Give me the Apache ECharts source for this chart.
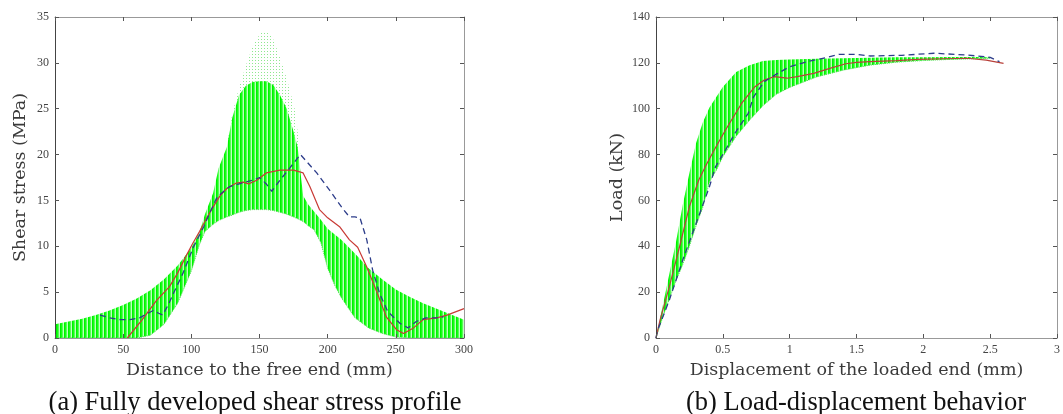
<!DOCTYPE html>
<html>
<head>
<meta charset="utf-8">
<script src="https://cdn.jsdelivr.net/npm/echarts@6/dist/echarts.min.js"></script>
<style>
  html, body { margin: 0; padding: 0; background: #fff; }
  #chart { width: 1063px; height: 414px; }
</style>
</head>
<body>
<div id="chart"></div>
<script>
// ---- (a) shear stress profile ----
let bandX = [0, 10, 20, 30, 40, 50, 60, 70, 80, 90, 100, 106, 110, 116, 120, 126, 130, 135, 140, 145, 150, 155, 160, 165, 170, 175, 178, 182, 186, 190, 195, 200, 205, 210, 220, 230, 240, 250, 260, 270, 280, 290, 300];
let bandUpper = [1.5, 1.8, 2.1, 2.5, 3.0, 3.6, 4.3, 5.2, 6.4, 7.9, 9.8, 11.5, 13.5, 15.8, 18.5, 20.8, 24, 26.5, 27.5, 27.9, 28, 28, 27.6, 26.5, 25, 22.5, 20.8, 15.5, 14.5, 13.8, 12.9, 11.9, 11.3, 10.7, 9.2, 7.6, 6.4, 5.3, 4.5, 3.8, 3.2, 2.6, 2.0];
let bandLower = [0, 0, 0, 0, 0, 0, 0, 0.3, 1.5, 3.8, 7.3, 10.2, 11.6, 12.4, 12.8, 13.2, 13.4, 13.7, 13.9, 14.0, 14.0, 14.0, 13.9, 13.7, 13.5, 13.2, 13.0, 12.7, 12.2, 11.8, 10.4, 7.6, 5.8, 4.4, 2.2, 1.1, 0.5, 0.1, 0, 0, 0, 0, 0];
// sparse dotted curves above the dense band near the peak
let peakX = [126, 130, 135, 140, 145, 150, 153, 157, 160, 165, 170, 176, 180];
let peakTop = [21, 24.4, 27.3, 29.7, 31.8, 33.1, 33.5, 33.2, 32.6, 30.6, 28.3, 24.9, 20];

let shearRed = [[53, 0], [64, 2.0], [74.5, 4.1], [84, 5.6], [90, 7.1], [96, 8.9], [101, 10.3], [106, 11.6], [111, 13.0], [116, 14.3], [121, 15.5], [126, 16.3], [133, 16.9], [138, 17.0], [142, 16.8], [148, 17.2], [155, 18.0], [165, 18.3], [175, 18.3], [182, 18.0], [187, 16.5], [194, 14.0], [200, 13.1], [209, 12.1], [216, 10.7], [222, 9.9], [228.5, 7.8], [235.6, 5.2], [243, 2.3], [250.5, 0.9], [255.6, 0.5], [263, 1.1], [270, 2.0], [280, 2.2], [287.5, 2.5], [300, 3.2]];
let shearDash = [[33, 2.5], [40, 2.2], [48, 2.0], [55, 2.0], [62, 2.2], [67, 2.6], [72, 3.0], [76, 2.7], [79, 2.5], [83, 3.6], [87, 4.9], [94, 7.1], [101.5, 9.9], [109, 12.1], [114, 13.8], [119, 15.4], [128, 16.5], [137, 16.9], [145, 17.2], [150, 17.5], [155, 16.8], [159, 16.0], [165, 17.2], [172, 18.5], [180, 20.0], [186, 19.0], [192, 18.0], [202, 16.0], [211, 14.1], [216, 13.2], [220, 13.2], [223.7, 13.1], [228.7, 10.7], [233, 7.4], [238, 4.9], [244, 2.9], [253, 1.6], [259, 1.1], [265, 1.8], [272, 2.2], [280, 2.2], [285, 2.3]];

// ---- (b) load-displacement ----
let loadX = [0, 0.05, 0.1, 0.15, 0.2, 0.25, 0.3, 0.35, 0.4, 0.45, 0.5, 0.6, 0.7, 0.8, 0.9, 1.0, 1.2, 1.4, 1.6, 1.8, 2.0, 2.2, 2.4, 2.5];
let loadUpper = [0, 14, 28, 42, 58, 72, 85, 94, 100.5, 105, 109.5, 116, 119, 120.8, 121.3, 121.5, 121.8, 122, 122.2, 122.4, 122.5, 122.6, 122.6, 122.4];
let loadLower = [0, 9, 17, 25, 32, 40, 49, 57, 68, 73, 79, 88, 95, 101.3, 106.3, 109.3, 113.8, 116.8, 119, 120.3, 121, 121.5, 121.8, 122];

let loadRed = [[0, 0], [0.03, 7.8], [0.1, 22.4], [0.176, 39.8], [0.25, 57.3], [0.32, 68.9], [0.38, 76], [0.45, 83.5], [0.52, 90.7], [0.64, 102.3], [0.74, 109.6], [0.81, 112.5], [0.885, 114], [0.98, 113.3], [1.056, 114], [1.18, 115.4], [1.3, 117.6], [1.42, 119.6], [1.5, 120.2], [1.6, 120.5], [1.8, 121], [1.96, 121.5], [2.15, 121.8], [2.33, 122], [2.47, 121.2], [2.6, 119.8]];
let loadDash = [[0, 0], [0.01, 3], [0.1, 16.6], [0.2, 34], [0.3, 50], [0.4, 66], [0.445, 74.7], [0.52, 82], [0.59, 89.3], [0.69, 98], [0.73, 105.2], [0.81, 111.8], [0.91, 115.4], [1.0, 118.3], [1.13, 120.5], [1.28, 122.4], [1.37, 123.7], [1.5, 123.7], [1.6, 123], [1.84, 123.3], [2.08, 124.2], [2.33, 123.4], [2.5, 122.4], [2.57, 120.5]];

// vertical hatch used to fake the many dotted green curves
const makeHatch = (w, h, dots) => {
  const c = document.createElement('canvas');
  c.width = w;
  c.height = h;
  const ctx = c.getContext('2d');
  dots.forEach(d => {
    ctx.fillStyle = d[2];
    ctx.fillRect(d[0], d[1], 1, 1);
  });
  return c;
};
let denseHatch = makeHatch(4, 1, [[0, 0, '#00f000'], [1, 0, '#14ff14'], [2, 0, '#55ff55'], [3, 0, '#bfffbf']]);
let sparseHatch = makeHatch(3, 3, [[0, 0, '#8fe88f'], [1, 0, '#ffffff'], [2, 0, '#ffffff']]);

const labelFont = { color: '#444', fontFamily: 'Liberation Serif', fontSize: 12 };
const nameFont = { color: '#3a3a3a', fontFamily: 'DejaVu Serif', fontSize: 17.5 };

const mainX = (grid, min, max, interval, name) => ({
  gridIndex: grid, type: 'value', min, max, interval, position: 'bottom', z: 10,
  name, nameLocation: 'middle', nameGap: 23, nameTextStyle: nameFont,
  axisLine: { onZero: false, lineStyle: { color: '#999', width: 1 } },
  axisTick: { inside: true, length: 4, lineStyle: { color: '#555' } },
  axisLabel: Object.assign({ margin: 6 }, labelFont),
  splitLine: { show: false },
});
const mainY = (grid, min, max, interval, name, gap) => ({
  gridIndex: grid, type: 'value', min, max, interval, position: 'left', z: 10,
  name, nameLocation: 'middle', nameGap: gap, nameTextStyle: nameFont,
  axisLine: { onZero: false, lineStyle: { color: '#444', width: 1 } },
  axisTick: { inside: true, length: 4, lineStyle: { color: '#555' } },
  axisLabel: Object.assign({ margin: 6 }, labelFont),
  splitLine: { show: false },
});
// mirrored axes for the matlab style box
const boxX = (grid, min, max, interval) => ({
  gridIndex: grid, type: 'value', min, max, interval, position: 'top', z: 10,
  axisLine: { onZero: false, lineStyle: { color: '#999', width: 1 } },
  axisTick: { inside: true, length: 4, lineStyle: { color: '#555' } },
  axisLabel: { show: false }, splitLine: { show: false },
});
const boxY = (grid, min, max, interval) => ({
  gridIndex: grid, type: 'value', min, max, interval, position: 'right', z: 10,
  axisLine: { onZero: false, lineStyle: { color: '#999', width: 1 } },
  axisTick: { inside: true, length: 4, lineStyle: { color: '#555' } },
  axisLabel: { show: false }, splitLine: { show: false },
});

// filled band between two envelopes (upper forward, lower back), via the axes' coords
const bandPolygon = (xi, yi, xs, hi, lo, fill, z) => ({
  type: 'custom', xAxisIndex: xi, yAxisIndex: yi, z, silent: true,
  data: [[xs[0], hi[0]]],
  renderItem: (params, api) => {
    let pts = xs.map((x, i) => api.coord([x, hi[i]]));
    if (lo) {
      for (let i = xs.length - 1; i >= 0; i--) pts.push(api.coord([xs[i], lo[i]]));
    }
    return { type: 'polygon', shape: { points: pts }, style: { fill, stroke: null } };
  },
});

const lineSeries = (xi, yi, data, style, z) => ({
  type: 'line', xAxisIndex: xi, yAxisIndex: yi, symbol: 'none', z, lineStyle: style, data,
});
const zip = (xs, ys) => xs.map((x, i) => [x, ys[i]]);

let chart = echarts.init(document.getElementById('chart'));
let option = {
  animation: false,
  backgroundColor: '#fff',
  title: [
    { text: '(a) Fully developed shear stress profile', left: 250, top: 385, textAlign: 'center',
      textStyle: { fontFamily: 'Liberation Serif', fontSize: 26.5, fontWeight: 'normal', color: '#111' } },
    { text: '(b) Load-displacement behavior', left: 851, top: 385, textAlign: 'center',
      textStyle: { fontFamily: 'Liberation Serif', fontSize: 26.5, fontWeight: 'normal', color: '#111' } },
  ],
  grid: [
    { left: 55, top: 17, width: 409, height: 321 },
    { left: 656, top: 17, width: 409, height: 321 },
  ],
  xAxis: [
    mainX(0, 0, 300, 50, 'Distance to the free end (mm)'),
    boxX(0, 0, 300, 50),
    mainX(1, 0, 3, 0.5, 'Displacement of the loaded end (mm)'),
    boxX(1, 0, 3, 0.5),
  ],
  yAxis: [
    mainY(0, 0, 35, 5, 'Shear stress (MPa)', 26),
    boxY(0, 0, 35, 5),
    mainY(1, 0, 140, 20, 'Load (kN)', 30),
    boxY(1, 0, 140, 20),
  ],
  series: [
    bandPolygon(0, 0, peakX, peakTop, null, { image: sparseHatch, repeat: 'repeat' }, 1),
    bandPolygon(0, 0, bandX, bandUpper, bandLower, { image: denseHatch, repeat: 'repeat' }, 2),
    lineSeries(0, 0, zip(bandX, bandLower), { color: '#5cd65c', width: 1, type: 'dotted' }, 3),
    lineSeries(0, 0, shearRed, { color: '#c83a35', width: 1.2 }, 4),
    lineSeries(0, 0, shearDash, { color: '#2d3d8a', width: 1.3, type: [6, 4] }, 5),

    bandPolygon(2, 2, loadX, loadUpper, loadLower, { image: denseHatch, repeat: 'repeat' }, 2),
    lineSeries(2, 2, zip(loadX, loadLower), { color: '#5cd65c', width: 1, type: 'dotted' }, 3),
    lineSeries(2, 2, loadRed, { color: '#b8403a', width: 1.2 }, 4),
    lineSeries(2, 2, loadDash, { color: '#2d3d8a', width: 1.3, type: [6, 4] }, 5),
  ],
};
chart.setOption(option);
</script>
</body>
</html>
